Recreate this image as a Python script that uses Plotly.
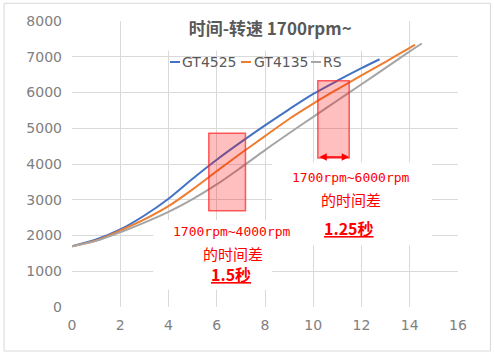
import plotly.graph_objects as go

# ---- data ----
t_gt4525 = [0, 1, 2, 3, 4, 5, 6, 7, 8, 9, 10, 11, 12, 12.75]
rpm_gt4525 = [1700, 1890, 2170, 2560, 3030, 3590, 4120, 4610, 5080, 5530, 5960, 6330, 6680, 6930]

t_gt4135 = [0, 1, 2, 3, 4, 5, 6, 7, 8, 9, 10, 11, 12, 13, 14, 14.22]
rpm_gt4135 = [1700, 1860, 2140, 2450, 2820, 3290, 3800, 4300, 4780, 5260, 5690, 6090, 6480, 6860, 7250, 7330]

t_rs = [0, 1, 2, 3, 4, 5, 6, 7, 8, 9, 10, 11, 12, 13, 14, 14.5]
rpm_rs = [1700, 1850, 2090, 2360, 2660, 3020, 3430, 3900, 4390, 4860, 5320, 5775, 6230, 6690, 7150, 7370]

series_names = ["GT4525", "GT4135", "RS"]
x_ticks = [0, 2, 4, 6, 8, 10, 12, 14, 16]
y_ticks = [0, 1000, 2000, 3000, 4000, 5000, 6000, 7000, 8000]

# time-difference highlight boxes: (t_start, t_end, rpm_low, rpm_high)
diff_boxes = [(5.67, 7.19, 2690, 4860), (10.19, 11.49, 4165, 6330)]

colors = ["#4472C4", "#ED7D31", "#A5A5A5"]

fig = go.Figure()
for (tx, ry), name, c in zip([(t_gt4525, rpm_gt4525), (t_gt4135, rpm_gt4135), (t_rs, rpm_rs)],
                             series_names, colors):
    fig.add_trace(go.Scatter(x=tx, y=ry, mode="lines", name=name, showlegend=False,
                             line=dict(color=c, width=2, shape="spline", smoothing=0.8)))

shapes = []
# white backgrounds behind text (hide gridlines)
for x0, x1, y0, y1 in [(3.66, 12.9, 7170, 8300), (3.37, 8.3, 480, 2430), (8.3, 14.93, 1730, 4040)]:
    shapes.append(dict(type="rect", xref="x", yref="y", x0=x0, x1=x1, y0=y0, y1=y1,
                       fillcolor="white", line=dict(width=0), layer="between"))
# pink highlight rectangles
for x0, x1, y0, y1 in diff_boxes:
    shapes.append(dict(type="rect", xref="x", yref="y", x0=x0, x1=x1, y0=y0, y1=y1,
                       fillcolor="rgba(255,0,0,0.25)", line=dict(color="rgba(255,40,40,0.75)", width=1.5),
                       layer="above"))
# outer chart border
shapes.append(dict(type="rect", xref="paper", yref="paper", x0=-0.176, x1=1.084, y0=-0.154, y1=1.062,
                   line=dict(color="#D9D9D9", width=1), fillcolor="rgba(0,0,0,0)", layer="below"))

red_mono = dict(family="DejaVu Sans Mono, Noto Sans CJK SC", size=13, color="#FF0000")
red_cjk = dict(family="Noto Sans CJK SC", size=15, color="#FF0000")
red_bold = dict(family="Noto Sans CJK SC", size=16, color="#FF0000")

annotations = [
    dict(x=6.63, y=2100, text="1700rpm~4000rpm", font=red_mono),
    dict(x=6.69, y=1500, text="的时间差", font=red_cjk),
    dict(x=6.6, y=920, text="<b><u>1.5秒</u></b>", font=red_bold),
    dict(x=11.57, y=3634, text="1700rpm~6000rpm", font=red_mono),
    dict(x=11.57, y=3003, text="的时间差", font=red_cjk),
    dict(x=11.49, y=2222, text="<b><u>1.25秒</u></b>", font=red_bold),
]
for a in annotations:
    a.update(xref="x", yref="y", showarrow=False, xanchor="center", yanchor="middle")

b2 = diff_boxes[1]
annotations.append(dict(x=b2[1], y=b2[2] + 30, ax=b2[0], ay=b2[2] + 30, xref="x", yref="y",
                        axref="x", ayref="y", text="", showarrow=True, arrowhead=2, arrowside="end+start",
                        arrowsize=1, arrowwidth=1.5, arrowcolor="#FF0000"))

# legend: short coloured dash + series name (paper coordinates)
W, H = 386.0, 286.0
leg_y = (307 - 62) / H
dash_px = [(170, 180), (241, 251), (311, 321)]
text_px = [181, 253, 322]
for (d0, d1), tx, name, c in zip(dash_px, text_px, series_names, colors):
    shapes.append(dict(type="line", xref="paper", yref="paper", x0=(d0 - 72) / W, x1=(d1 - 72) / W,
                       y0=leg_y, y1=leg_y, line=dict(color=c, width=2)))
    annotations.append(dict(xref="paper", yref="paper", x=(tx - 72) / W, y=leg_y, xanchor="left",
                            yanchor="middle", text=name, showarrow=False, borderpad=0,
                            font=dict(family="DejaVu Sans", size=14, color="#595959")))

fig.update_layout(
    width=494, height=357,
    margin=dict(l=72, r=36, t=21, b=50),
    paper_bgcolor="white", plot_bgcolor="white",
    title=dict(text="<b>时间-转速 1700rpm~</b>", x=0.547, xanchor="center", y=0.919, yanchor="middle",
               font=dict(family="Noto Sans CJK SC", size=17, color="#595959")),
    shapes=shapes,
    annotations=annotations,
    showlegend=False,
)
fig.update_xaxes(range=[0, 16], tickvals=x_ticks, showgrid=True, gridcolor="#D9D9D9", gridwidth=1,
                 zeroline=False, showline=False, ticks="", ticklabelstandoff=8,
                 tickfont=dict(family="DejaVu Sans", size=14, color="#808080"), fixedrange=True)
fig.update_yaxes(range=[0, 8000], tickvals=y_ticks, showgrid=True, gridcolor="#D9D9D9", gridwidth=1,
                 zeroline=False, showline=False, ticks="", ticklabelstandoff=9,
                 tickfont=dict(family="DejaVu Sans", size=14, color="#808080"), fixedrange=True)

fig.write_html("out.html", config={"displayModeBar": False},
               post_script="document.body.style.margin='0px';")
